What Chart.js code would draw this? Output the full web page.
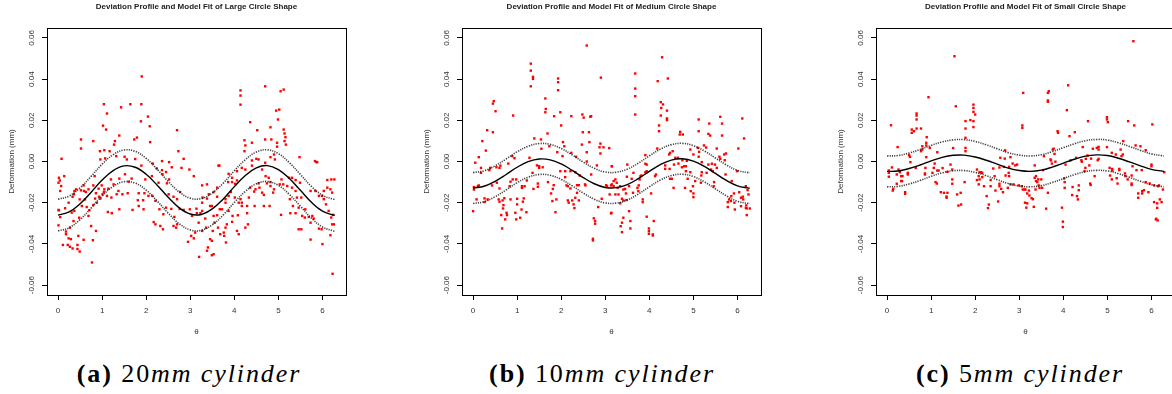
<!DOCTYPE html>
<html lang="en">
<head>
<meta charset="UTF-8">
<title>Deviation Profile and Model Fit</title>
<script src="https://cdn.jsdelivr.net/npm/chart.js"></script>
<style>
  html, body { margin: 0; padding: 0; background: #fff; }
  body { width: 1172px; height: 394px; overflow: hidden; position: relative; }
  canvas { position: absolute; top: 0; }
  .cap {
    position: absolute; top: 359px; width: 340px; text-align: center;
    font-family: "Liberation Serif", "Times New Roman", serif; font-size: 26px; color: #000;
    letter-spacing: 1.9px; white-space: nowrap;
  }
  .cap b { font-weight: bold; }
  .cap i { font-style: italic; }
</style>
</head>
<body>
<canvas id="large" width="352" height="345" style="left:0px"></canvas>
<canvas id="medium" width="352" height="345" style="left:415px"></canvas>
<canvas id="small" width="352" height="345" style="left:829px"></canvas>

<div class="cap" style="left:19px"><b>(a)</b> 20<i>mm cylinder</i></div>
<div class="cap" style="left:432px"><b>(b)</b> 10<i>mm cylinder</i></div>
<div class="cap" style="left:850px"><b>(c)</b> 5<i>mm cylinder</i></div>

<script>
// tick positions and labels
const xTicks = [0, 1, 2, 3, 4, 5, 6];
const yTicks = [-0.06, -0.04, -0.02, 0, 0.02, 0.04, 0.06];
const yTickLabels = ['-0.06', '-0.04', '-0.02', '0.00', '0.02', '0.04', '0.06'];

// theta grid for the fitted curve and its bands
const fitTheta = [0, 0.25, 0.5, 0.75, 1, 1.25, 1.5, 1.75, 2, 2.25, 2.5, 2.75, 3, 3.25, 3.5,
  3.75, 4, 4.25, 4.5, 4.75, 5, 5.25, 5.5, 5.75, 6, 6.25, 6.28];

// large circle (20mm)
const largeFit = [-0.0260, -0.0245, -0.0205, -0.0149, -0.0090, -0.0044, -0.0021, -0.0028, -0.0062,
  -0.0115, -0.0174, -0.0225, -0.0255, -0.0257, -0.0230, -0.0182, -0.0122, -0.0068, -0.0031, -0.0020,
  -0.0039, -0.0083, -0.0140, -0.0198, -0.0241, -0.0260, -0.0260];
const largeUpper = [-0.0183, -0.0168, -0.0128, -0.0072, -0.0013, 0.0033, 0.0056, 0.0049, 0.0015,
  -0.0038, -0.0097, -0.0148, -0.0178, -0.0180, -0.0153, -0.0105, -0.0045, 0.0009, 0.0046, 0.0057,
  0.0038, -0.0006, -0.0063, -0.0121, -0.0164, -0.0183, -0.0183];
const largeLower = [-0.0337, -0.0322, -0.0282, -0.0226, -0.0167, -0.0121, -0.0098, -0.0105, -0.0139,
  -0.0192, -0.0251, -0.0302, -0.0332, -0.0334, -0.0307, -0.0259, -0.0199, -0.0145, -0.0108, -0.0097,
  -0.0116, -0.0160, -0.0217, -0.0275, -0.0318, -0.0337, -0.0337];
const largePoints = [
  [1.90,0.0413],[1.04,0.0278],[1.64,0.0278],[1.89,0.0278],[1.11,0.0233],[1.43,0.0263],[2.04,0.0218],[1.88,0.0195],
  [1.02,0.0174],[1.09,0.0155],[2.08,0.0171],[2.70,0.0152],[0.52,0.0107],[0.80,0.0099],[0.52,0.0063],[1.39,0.0126],
  [1.29,0.0099],[1.73,0.0107],[1.79,0.0116],[2.09,0.0094],[2.73,0.0050],[0.95,0.0050],[1.05,0.0055],[1.17,0.0050],
  [1.27,0.0082],[0.08,0.0013],[0.96,0.0010],[1.07,0.0015],[1.32,0.0026],[1.51,0.0023],[1.56,0.0010],[1.75,0.0012],
  [1.89,-0.0020],[2.36,0.0002],[2.52,-0.0003],[2.85,0.0013],[2.58,-0.0028],[2.80,-0.0031],[2.98,-0.0039],[3.08,-0.0071],
  [0.14,-0.0071],[0.02,-0.0079],[0.07,-0.0119],[0.05,-0.0143],[0.01,-0.0235],[0.01,-0.0310],[0.05,-0.0270],[0.16,-0.0227],
  [0.18,-0.0340],[0.18,-0.0353],[0.24,-0.0373],[0.11,-0.0405],[0.22,-0.0405],[0.27,-0.0414],[0.33,-0.0422],[0.44,-0.0405],
  [0.44,-0.0425],[0.49,-0.0437],[0.58,-0.0380],[0.79,-0.0382],[0.77,-0.0490],[0.27,-0.0321],[0.29,-0.0377],[0.46,-0.0361],
  [0.35,-0.0289],[0.48,-0.0273],[0.31,-0.0248],[0.37,-0.0240],[0.24,-0.0200],[0.33,-0.0171],[0.36,-0.0159],[0.41,-0.0135],
  [0.52,-0.0140],[0.49,-0.0184],[0.61,-0.0184],[0.54,-0.0216],[0.65,-0.0221],[0.69,-0.0264],[0.75,-0.0313],[0.86,-0.0337],
  [0.71,-0.0237],[0.80,-0.0211],[0.88,-0.0200],[0.84,-0.0180],[0.93,-0.0171],[0.96,-0.0180],[1.01,-0.0159],[1.04,-0.0148],
  [1.11,-0.0167],[1.21,-0.0175],[1.13,-0.0245],[1.22,-0.0251],[1.39,-0.0232],[1.33,-0.0159],[1.37,-0.0143],[1.46,-0.0159],
  [1.58,-0.0154],[1.69,-0.0235],[1.81,-0.0188],[1.83,-0.0216],[1.93,-0.0188],[1.94,-0.0232],[1.83,-0.0154],[1.96,-0.0154],
  [2.05,-0.0167],[2.14,-0.0167],[2.21,-0.0191],[2.17,-0.0294],[2.21,-0.0305],[2.32,-0.0313],[2.38,-0.0329],[2.30,-0.0232],
  [2.39,-0.0256],[2.45,-0.0224],[2.57,-0.0230],[2.64,-0.0269],[2.62,-0.0313],[2.68,-0.0321],[2.70,-0.0305],[2.76,-0.0230],
  [2.85,-0.0235],[2.99,-0.0232],[3.04,-0.0264],[3.02,-0.0361],[2.95,-0.0390],[3.08,-0.0373],[3.11,-0.0345],[2.70,-0.0183],
  [2.62,-0.0171],[2.51,-0.0159],[2.77,-0.0148],[2.28,-0.0103],[2.37,-0.0062],[2.45,-0.0051],[2.52,-0.0087],[2.47,-0.0106],
  [2.36,-0.0042],[2.24,-0.0034],[2.15,-0.0010],[2.13,-0.0071],[1.98,-0.0087],[1.67,-0.0083],[1.60,-0.0098],[1.52,-0.0062],
  [1.39,-0.0083],[1.20,-0.0087],[1.14,-0.0132],[1.26,-0.0111],[1.05,-0.0135],[0.99,-0.0116],[0.92,-0.0132],[0.86,-0.0154],
  [0.80,-0.0116],[0.69,-0.0135],[0.63,-0.0148],[0.59,-0.0143],[0.37,-0.0143],[0.83,-0.0071],[0.58,-0.0116],[0.04,-0.0092],
  [0.02,-0.0237],[0.01,-0.0103],
  [4.70,0.0365],[5.12,0.0349],[5.05,0.0341],[4.14,0.0345],[4.14,0.0320],[4.14,0.0276],[4.95,0.0247],[5.02,0.0252],
  [4.99,0.0204],[4.36,0.0191],[4.52,0.0152],[4.82,0.0166],[5.12,0.0155],[5.14,0.0136],[5.16,0.0118],[5.14,0.0099],
  [5.17,0.0082],[4.23,0.0103],[4.25,0.0078],[4.23,0.0050],[4.40,0.0091],[4.70,0.0107],[4.84,0.0107],[4.97,0.0091],
  [4.97,0.0072],[4.90,0.0034],[4.82,0.0021],[4.92,0.0010],[4.50,0.0013],[4.55,0.0010],[4.40,0.0005],[3.66,-0.0020],
  [5.48,0.0021],[5.83,0.0002],[5.88,-0.0003],[4.70,-0.0006],[4.63,-0.0039],[4.40,-0.0020],[4.25,-0.0039],[4.17,-0.0031],
  [4.06,-0.0047],[3.87,-0.0060],[3.95,-0.0079],[3.86,-0.0100],[3.95,-0.0100],[4.02,-0.0108],[4.06,-0.0092],[4.71,-0.0071],
  [4.78,-0.0079],[4.82,-0.0100],[4.74,-0.0106],[4.55,-0.0106],[4.57,-0.0127],[4.48,-0.0135],[4.36,-0.0127],[4.67,-0.0162],
  [4.88,-0.0151],[4.90,-0.0135],[5.07,-0.0087],[5.11,-0.0111],[5.20,-0.0119],[5.31,-0.0079],[5.39,-0.0090],[5.49,-0.0103],
  [5.31,-0.0127],[5.39,-0.0143],[5.42,-0.0175],[5.52,-0.0175],[5.26,-0.0183],[5.33,-0.0216],[5.46,-0.0224],[5.39,-0.0251],
  [5.54,-0.0264],[5.61,-0.0232],[5.69,-0.0269],[5.77,-0.0264],[5.80,-0.0277],[5.73,-0.0297],[5.60,-0.0272],[5.46,-0.0329],
  [5.52,-0.0329],[5.73,-0.0379],[5.06,-0.0259],[5.27,-0.0251],[5.92,-0.0326],[5.98,-0.0329],[6.00,-0.0401],[6.18,-0.0358],
  [6.22,-0.0305],[6.26,-0.0305],[6.20,-0.0272],[6.24,-0.0259],[6.14,-0.0240],[6.08,-0.0208],[6.03,-0.0183],[5.99,-0.0167],
  [5.92,-0.0167],[5.84,-0.0143],[5.73,-0.0143],[6.03,-0.0143],[6.11,-0.0127],[6.18,-0.0135],[6.22,-0.0151],[6.20,-0.0087],
  [6.27,-0.0087],[6.11,-0.0090],[5.86,-0.0003],[5.24,-0.0079],[5.03,-0.0111],[4.82,-0.0119],[4.67,-0.0216],[4.80,-0.0216],
  [4.63,-0.0151],[4.45,-0.0146],[4.33,-0.0175],[4.46,-0.0216],[4.29,-0.0216],[4.17,-0.0200],[4.10,-0.0200],[4.14,-0.0183],
  [4.01,-0.0175],[3.87,-0.0167],[3.92,-0.0148],[3.80,-0.0183],[3.80,-0.0200],[3.72,-0.0232],[3.87,-0.0240],[3.95,-0.0293],
  [3.96,-0.0264],[4.08,-0.0261],[4.17,-0.0216],[4.29,-0.0251],[4.31,-0.0305],[4.25,-0.0321],[4.10,-0.0353],[4.06,-0.0337],
  [3.83,-0.0305],[3.81,-0.0393],[3.76,-0.0345],[3.68,-0.0353],[3.63,-0.0321],[3.55,-0.0297],[3.53,-0.0264],[3.61,-0.0261],
  [3.67,-0.0232],[3.49,-0.0216],[3.45,-0.0216],[3.51,-0.0337],[3.49,-0.0385],[3.45,-0.0377],[3.40,-0.0417],[3.38,-0.0433],
  [3.53,-0.0450],[3.49,-0.0455],[3.20,-0.0463],[3.27,-0.0337],[3.19,-0.0297],[3.36,-0.0321],[3.34,-0.0277],[3.27,-0.0240],
  [3.15,-0.0251],[3.23,-0.0251],[3.14,-0.0229],[3.27,-0.0200],[3.38,-0.0180],[3.61,-0.0171],[3.42,-0.0159],[3.53,-0.0148],
  [3.27,-0.0116],[3.38,-0.0111],[3.61,-0.0127],[3.64,-0.0020],[3.28,-0.0175],[3.80,-0.0321],[3.77,-0.0361],[6.23,-0.0545]
];

// medium circle (10mm)
const mediumFit = [-0.0129, -0.0120, -0.0096, -0.0063, -0.0028, -0.0001, 0.0012, 0.0008, -0.0012,
  -0.0043, -0.0078, -0.0108, -0.0126, -0.0127, -0.0112, -0.0083, -0.0048, -0.0015, 0.0007, 0.0013,
  0.0002, -0.0024, -0.0058, -0.0092, -0.0118, -0.0129, -0.0129];
const mediumUpper = [-0.0054, -0.0045, -0.0021, 0.0012, 0.0047, 0.0074, 0.0087, 0.0083, 0.0063,
  0.0032, -0.0003, -0.0033, -0.0051, -0.0052, -0.0037, -0.0008, 0.0027, 0.0060, 0.0082, 0.0088,
  0.0077, 0.0051, 0.0017, -0.0017, -0.0043, -0.0054, -0.0054];
const mediumLower = [-0.0204, -0.0195, -0.0171, -0.0138, -0.0103, -0.0076, -0.0063, -0.0067, -0.0087,
  -0.0118, -0.0153, -0.0183, -0.0201, -0.0202, -0.0187, -0.0158, -0.0123, -0.0090, -0.0068, -0.0062,
  -0.0073, -0.0099, -0.0133, -0.0167, -0.0193, -0.0204, -0.0204];
const mediumPoints = [
  [2.58,0.0563],[1.31,0.0475],[1.31,0.0441],[1.36,0.0411],[1.36,0.0401],[1.31,0.0365],[1.93,0.0403],[1.93,0.0385],
  [1.93,0.0346],[2.90,0.0407],[1.64,0.0306],[1.65,0.0255],[1.64,0.0239],[0.47,0.0293],[0.45,0.0281],[0.51,0.0244],
  [0.91,0.0223],[1.84,0.0220],[1.98,0.0239],[2.23,0.0220],[2.48,0.0228],[2.51,0.0213],[2.66,0.0217],[2.68,0.0220],
  [2.00,0.0175],[1.69,0.0136],[0.32,0.0152],[0.45,0.0142],[0.21,0.0099],[0.29,0.0053],[2.49,0.0142],[2.63,0.0142],
  [2.64,0.0094],[2.89,0.0087],[2.96,0.0069],[2.87,0.0069],[3.09,0.0065],[2.89,0.0039],[1.39,0.0112],[1.54,0.0107],
  [1.73,0.0074],[1.55,0.0062],[2.04,0.0094],[2.07,0.0074],[2.03,0.0026],[1.91,0.0045],[2.23,0.0042],[2.34,0.0023],
  [2.47,0.0082],[2.58,0.0045],[0.89,0.0026],[0.94,0.0016],[0.80,-0.0010],[0.62,-0.0020],[0.60,-0.0031],[0.53,-0.0028],
  [0.39,-0.0031],[0.37,-0.0042],[0.18,-0.0031],[0.13,0.0021],[0.05,-0.0006],[0.18,-0.0055],[0.13,-0.0116],[0.11,-0.0120],
  [0.02,-0.0136],[0.02,-0.0124],[0.00,-0.0241],[0.08,-0.0184],[0.26,-0.0179],[0.26,-0.0197],[0.33,-0.0184],[0.43,-0.0116],
  [0.54,-0.0103],[0.60,-0.0131],[0.58,-0.0184],[0.60,-0.0195],[0.67,-0.0189],[0.69,-0.0212],[0.71,-0.0178],[0.68,-0.0228],
  [0.76,-0.0249],[0.77,-0.0260],[0.73,-0.0281],[0.66,-0.0325],[0.64,-0.0260],[0.85,-0.0184],[1.00,-0.0181],[1.00,-0.0208],
  [0.96,-0.0249],[0.98,-0.0281],[1.07,-0.0273],[1.10,-0.0233],[1.13,-0.0195],[1.21,-0.0246],[1.15,-0.0179],[0.83,-0.0120],
  [0.85,-0.0098],[0.90,-0.0087],[0.98,-0.0087],[1.11,-0.0120],[1.11,-0.0128],[1.17,-0.0120],[1.22,-0.0092],[1.35,-0.0055],
  [1.28,0.0018],[1.45,-0.0019],[1.50,-0.0031],[1.50,-0.0023],[1.58,-0.0028],[1.47,-0.0107],[1.47,-0.0123],[1.37,-0.0133],
  [1.70,-0.0100],[1.83,-0.0115],[1.81,-0.0133],[1.77,-0.0155],[1.80,-0.0192],[1.89,-0.0184],[1.87,-0.0246],[2.15,-0.0189],
  [2.17,-0.0200],[2.25,-0.0189],[2.28,-0.0208],[2.30,-0.0226],[2.12,-0.0116],[2.15,-0.0120],[2.21,-0.0131],[2.36,-0.0115],
  [2.40,-0.0115],[2.36,-0.0152],[2.32,-0.0176],[2.40,-0.0189],[2.54,-0.0111],[2.55,-0.0116],[1.98,-0.0047],[2.09,-0.0047],
  [2.09,-0.0076],[2.21,-0.0047],[2.32,-0.0052],[2.42,-0.0068],[2.58,0.0000],[2.68,-0.0063],[2.81,-0.0019],[2.84,-0.0221],
  [2.92,-0.0181],[2.74,-0.0276],[2.77,-0.0289],[2.77,-0.0302],[2.72,-0.0375],[2.72,-0.0383],[3.04,-0.0120],[3.10,-0.0160],
  [3.14,-0.0249],[3.15,-0.0023],[3.02,-0.0115],[3.13,-0.0116],
  [4.29,0.0506],[3.68,0.0427],[3.68,0.0354],[3.68,0.0317],[3.68,0.0228],[4.19,0.0390],[4.42,0.0403],[4.26,0.0288],
  [4.31,0.0277],[4.27,0.0260],[4.40,0.0247],[4.26,0.0223],[4.40,0.0209],[4.40,0.0201],[4.22,0.0175],[4.22,0.0147],
  [5.12,0.0204],[5.12,0.0147],[5.36,0.0184],[5.61,0.0217],[5.65,0.0184],[6.11,0.0209],[6.15,0.0112],[6.02,0.0063],
  [5.34,0.0134],[5.38,0.0126],[5.65,0.0126],[4.70,0.0144],[4.69,0.0131],[4.76,0.0131],[5.24,0.0078],[5.29,0.0068],
  [5.53,0.0063],[5.10,0.0066],[4.93,0.0058],[4.18,0.0063],[4.53,0.0050],[4.47,0.0042],[4.45,0.0034],[3.91,0.0031],
  [3.50,-0.0015],[3.15,-0.0023],[3.91,-0.0011],[3.91,-0.0052],[3.80,-0.0071],[3.82,-0.0068],[3.94,-0.0047],[4.13,-0.0071],
  [4.15,-0.0063],[4.36,-0.0019],[4.36,-0.0036],[4.46,-0.0036],[4.56,-0.0015],[4.59,0.0018],[4.65,0.0018],[4.66,-0.0010],
  [4.74,-0.0028],[4.79,-0.0023],[4.83,-0.0047],[4.87,-0.0084],[4.83,-0.0023],[4.75,0.0006],[4.85,0.0003],[5.00,0.0034],
  [5.13,0.0047],[5.12,0.0023],[5.19,-0.0003],[5.34,-0.0015],[5.42,-0.0011],[5.49,-0.0015],[5.53,-0.0031],[5.59,0.0023],
  [5.61,0.0013],[5.70,0.0034],[5.74,0.0039],[5.71,0.0006],[5.44,-0.0047],[5.40,-0.0039],[5.30,-0.0055],[4.93,-0.0052],
  [5.19,-0.0052],[5.18,-0.0068],[5.04,-0.0095],[4.99,-0.0120],[5.17,-0.0103],[5.00,-0.0155],[4.94,-0.0144],[4.81,-0.0128],
  [5.00,-0.0173],[5.47,-0.0100],[5.46,-0.0120],[5.73,-0.0063],[5.87,-0.0095],[5.99,-0.0047],[6.04,-0.0149],[5.92,-0.0155],
  [5.86,-0.0168],[5.81,-0.0184],[5.85,-0.0192],[5.78,-0.0197],[5.93,-0.0200],[5.78,-0.0221],[5.94,-0.0233],[6.08,-0.0176],
  [6.12,-0.0171],[6.13,-0.0184],[6.19,-0.0120],[6.23,-0.0139],[6.25,-0.0160],[6.20,-0.0213],[6.19,-0.0225],[6.21,-0.0228],
  [6.28,-0.0228],[6.21,-0.0260],[6.08,-0.0217],[3.94,-0.0015],[3.78,-0.0087],[3.64,-0.0055],[3.60,-0.0084],[3.49,-0.0074],
  [3.54,-0.0120],[3.45,-0.0133],[3.41,-0.0136],[3.34,-0.0120],[3.26,-0.0103],[3.23,-0.0087],[3.19,-0.0095],[3.15,-0.0111],
  [3.19,-0.0120],[3.28,-0.0128],[3.23,-0.0160],[3.30,-0.0160],[3.38,-0.0181],[3.41,-0.0189],[3.47,-0.0155],[3.48,-0.0187],
  [3.63,-0.0152],[3.76,-0.0116],[3.73,-0.0128],[3.75,-0.0144],[3.13,-0.0252],[3.34,-0.0203],[3.54,-0.0241],[3.57,-0.0289],
  [3.57,-0.0325],[3.41,-0.0273],[3.38,-0.0297],[3.35,-0.0314],[3.38,-0.0343],[3.85,-0.0184],[3.85,-0.0197],[3.94,-0.0268],
  [4.04,-0.0155],[4.10,-0.0289],[3.99,-0.0325],[3.99,-0.0338],[3.99,-0.0351],[4.08,-0.0354],[4.08,-0.0359],[4.47,-0.0084],
  [4.51,-0.0084],[4.55,-0.0128]
];

// small circle (5mm)
const smallFit = [-0.0048, -0.0046, -0.0034, -0.0017, 0.0003, 0.0020, 0.0030, 0.0031, 0.0022,
  0.0006, -0.0013, -0.0032, -0.0044, -0.0048, -0.0042, -0.0027, -0.0008, 0.0011, 0.0026, 0.0032,
  0.0029, 0.0016, -0.0002, -0.0021, -0.0038, -0.0047, -0.0048];
const smallUpper = [0.0027, 0.0029, 0.0041, 0.0058, 0.0078, 0.0095, 0.0105, 0.0106, 0.0097,
  0.0081, 0.0062, 0.0043, 0.0031, 0.0027, 0.0033, 0.0048, 0.0067, 0.0086, 0.0101, 0.0107,
  0.0104, 0.0091, 0.0073, 0.0054, 0.0037, 0.0028, 0.0027];
const smallLower = [-0.0123, -0.0121, -0.0109, -0.0092, -0.0072, -0.0055, -0.0045, -0.0044, -0.0053,
  -0.0069, -0.0088, -0.0107, -0.0119, -0.0123, -0.0117, -0.0102, -0.0083, -0.0064, -0.0049, -0.0043,
  -0.0046, -0.0059, -0.0077, -0.0096, -0.0113, -0.0122, -0.0123];
const smallPoints = [
  [1.53,0.0511],[0.94,0.0312],[0.09,0.0176],[0.67,0.0233],[0.67,0.0223],[0.67,0.0204],[0.56,0.0155],[0.61,0.0147],
  [0.56,0.0139],[0.67,0.0160],[0.77,0.0160],[1.56,0.0268],[1.96,0.0276],[1.96,0.0260],[1.96,0.0241],[2.00,0.0228],
  [1.78,0.0196],[1.89,0.0201],[1.96,0.0196],[1.96,0.0167],[1.78,0.0160],[1.78,0.0115],[0.90,0.0118],[0.89,0.0091],
  [0.89,0.0078],[0.97,0.0066],[0.80,0.0074],[0.80,0.0058],[0.77,0.0050],[0.24,0.0070],[0.50,0.0031],[0.52,0.0023],
  [0.89,0.0021],[1.14,0.0045],[1.78,0.0066],[1.78,0.0050],[1.50,0.0065],[2.68,0.0054],[2.57,0.0018],[2.67,0.0014],
  [2.80,0.0021],[0.53,-0.0003],[0.65,-0.0031],[0.87,-0.0031],[1.08,-0.0010],[1.44,-0.0015],[1.06,-0.0031],[1.14,-0.0044],
  [1.17,-0.0044],[1.26,-0.0032],[1.37,-0.0050],[1.48,-0.0039],[2.04,-0.0039],[2.10,-0.0052],[2.16,-0.0055],[2.41,-0.0034],
  [2.55,-0.0029],[2.65,-0.0026],[2.77,-0.0026],[2.85,-0.0010],[2.91,-0.0019],[2.95,-0.0015],[0.04,-0.0044],[0.04,-0.0055],
  [0.11,-0.0029],[0.26,-0.0039],[0.29,-0.0052],[0.22,-0.0063],[0.32,-0.0071],[0.35,-0.0071],[0.47,-0.0055],[0.47,-0.0063],
  [0.04,-0.0074],[0.32,-0.0095],[0.34,-0.0095],[0.22,-0.0108],[0.13,-0.0141],[0.14,-0.0133],[0.41,-0.0157],[0.41,-0.0149],
  [0.86,-0.0058],[0.86,-0.0063],[1.03,-0.0055],[1.10,-0.0100],[1.13,-0.0107],[1.22,-0.0149],[1.29,-0.0152],[1.37,-0.0152],
  [1.35,-0.0170],[1.35,-0.0176],[1.48,-0.0087],[1.48,-0.0108],[1.59,-0.0160],[1.67,-0.0152],[1.62,-0.0214],[1.68,-0.0209],
  [1.76,-0.0100],[2.08,-0.0071],[2.04,-0.0090],[2.10,-0.0087],[2.08,-0.0111],[2.13,-0.0052],[2.16,-0.0076],[2.20,-0.0120],
  [2.26,-0.0168],[2.31,-0.0209],[2.29,-0.0226],[2.35,-0.0120],[2.35,-0.0090],[2.44,-0.0071],[2.46,-0.0141],[2.52,-0.0194],
  [2.55,-0.0120],[2.59,-0.0133],[2.63,-0.0149],[2.55,-0.0108],[2.69,-0.0068],[2.77,-0.0071],[2.76,-0.0055],[2.74,-0.0128],
  [2.80,-0.0111],[2.87,-0.0111],[2.99,-0.0116],[3.06,-0.0120],[3.12,-0.0136],
  [5.59,0.0584],[3.09,0.0333],[3.65,0.0333],[3.67,0.0341],[3.65,0.0296],[3.65,0.0290],[4.11,0.0370],[4.08,0.0249],
  [3.07,0.0175],[3.07,0.0163],[4.56,0.0196],[4.99,0.0215],[4.99,0.0204],[5.01,0.0191],[5.47,0.0196],[5.61,0.0175],
  [6.02,0.0180],[3.87,0.0147],[3.88,0.0139],[4.26,0.0142],[4.14,0.0123],[5.36,0.0099],[5.64,0.0078],[5.75,0.0074],
  [5.87,0.0055],[4.80,0.0071],[4.80,0.0058],[4.76,0.0066],[4.67,0.0062],[4.44,0.0070],[4.99,0.0070],[5.30,0.0058],
  [5.10,0.0042],[5.19,0.0034],[5.35,0.0034],[5.32,0.0026],[3.78,0.0062],[3.76,0.0058],[3.80,0.0037],[3.71,0.0010],
  [3.72,0.0005],[3.74,-0.0010],[3.82,-0.0001],[3.56,0.0026],[4.29,0.0018],[4.51,0.0013],[4.55,0.0029],[4.63,0.0014],
  [4.80,0.0013],[4.78,0.0006],[4.41,0.0006],[4.42,-0.0001],[4.59,-0.0019],[4.50,-0.0031],[4.05,-0.0015],[4.16,0.0005],
  [3.35,-0.0019],[3.54,-0.0042],[3.35,-0.0079],[3.38,-0.0095],[3.41,-0.0100],[3.44,-0.0116],[3.46,-0.0128],[3.52,-0.0128],
  [3.14,-0.0136],[3.22,-0.0141],[3.23,-0.0165],[3.18,-0.0155],[3.28,-0.0178],[3.31,-0.0183],[3.18,-0.0203],[3.16,-0.0224],
  [3.33,-0.0220],[3.65,-0.0152],[3.61,-0.0229],[3.97,-0.0224],[3.99,-0.0292],[3.99,-0.0318],[4.02,-0.0082],[4.03,-0.0100],
  [4.03,-0.0128],[4.21,-0.0124],[4.20,-0.0163],[4.31,-0.0168],[4.33,-0.0184],[4.35,-0.0116],[4.35,-0.0139],[4.48,-0.0047],
  [4.61,-0.0107],[4.62,-0.0114],[4.71,-0.0071],[5.05,-0.0031],[5.11,-0.0036],[5.11,-0.0044],[5.06,-0.0068],[5.10,-0.0087],
  [5.21,-0.0081],[5.23,-0.0107],[5.27,-0.0036],[5.27,-0.0042],[5.40,-0.0058],[5.41,-0.0071],[5.46,-0.0087],[5.55,-0.0068],
  [5.55,-0.0107],[5.55,-0.0114],[5.57,-0.0023],[5.66,-0.0042],[5.78,-0.0042],[6.00,-0.0015],[6.00,-0.0023],[5.87,-0.0100],
  [5.96,-0.0107],[5.70,-0.0155],[5.70,-0.0176],[5.79,-0.0155],[5.79,-0.0144],[5.83,-0.0139],[5.93,-0.0149],[6.06,-0.0116],
  [6.15,-0.0120],[6.17,-0.0116],[6.26,-0.0136],[6.29,-0.0052],[6.19,-0.0184],[6.06,-0.0197],[6.23,-0.0197],[6.13,-0.0225],
  [6.13,-0.0203],[6.11,-0.0278],[6.14,-0.0286],[6.10,-0.0281],[3.43,-0.0087],[3.50,-0.0087],[3.37,-0.0136],[3.08,-0.0136],
  [3.13,-0.0200],[3.38,-0.0071]
];

const FONT = '"Liberation Sans", Arial, sans-serif';

// R-style frame: full box, rotated y tick labels, plot title over the plot region
const rFrame = {
  id: 'rFrame',
  afterDraw(chart) {
    const { ctx, chartArea: a } = chart;
    const y = chart.scales.y;
    ctx.save();
    ctx.strokeStyle = '#000';
    ctx.lineWidth = 1;
    ctx.strokeRect(Math.round(a.left) + 0.5, Math.round(a.top) + 0.5,
      Math.round(a.right - a.left), Math.round(a.bottom - a.top));

    ctx.fillStyle = '#333';
    ctx.font = '8px ' + FONT;
    ctx.textAlign = 'center';
    ctx.textBaseline = 'middle';
    yTicks.forEach((v, i) => {
      ctx.save();
      ctx.translate(a.left - 15, y.getPixelForValue(v));
      ctx.rotate(-Math.PI / 2);
      ctx.fillText(yTickLabels[i], 0, 0);
      ctx.restore();
    });

    ctx.fillStyle = '#222';
    ctx.font = 'bold 8px ' + FONT;
    ctx.fillText(chart.options.plotTitle, (a.left + a.right) / 2, 7);
    ctx.restore();
  }
};

function drawPanel(id, title, points, fit, upper, lower) {
  const curve = ys => fitTheta.map((t, i) => ({ x: t, y: ys[i] }));
  const band = {
    type: 'line', borderColor: 'rgba(30,30,30,0.85)', borderWidth: 1.6,
    borderDash: [1.2, 1.2], pointRadius: 0, tension: 0.4, fill: false
  };
  new Chart(document.getElementById(id), {
    type: 'scatter',
    data: {
      datasets: [
        { type: 'line', data: curve(fit), borderColor: '#000', borderWidth: 1.4,
          pointRadius: 0, tension: 0.4, fill: false },
        Object.assign({ data: curve(upper) }, band),
        Object.assign({ data: curve(lower) }, band),
        { data: points.map(p => ({ x: p[0], y: p[1] })), backgroundColor: '#ff0000',
          borderWidth: 0, pointStyle: 'rect', pointRadius: 1.7 }
      ]
    },
    options: {
      plotTitle: title,
      responsive: false,
      animation: false,
      events: [],
      layout: { padding: { left: 7, right: 6, top: 28, bottom: 8 } },
      plugins: { legend: { display: false }, tooltip: { enabled: false } },
      scales: {
        x: {
          type: 'linear', min: -0.251, max: 6.534,
          afterBuildTicks: s => { s.ticks = xTicks.map(v => ({ value: v })); },
          afterFit: s => { s.height = 42; },
          border: { display: false },
          grid: { drawOnChartArea: false, drawTicks: true, tickLength: 5, color: '#000' },
          ticks: { padding: 6, color: '#333', maxRotation: 0, font: { family: FONT, size: 8 } },
          title: { display: true, text: 'θ', color: '#333', padding: 0, font: { family: FONT, size: 8 } }
        },
        y: {
          type: 'linear', min: -0.0648, max: 0.0648,
          afterBuildTicks: s => { s.ticks = yTicks.map(v => ({ value: v })); },
          afterFit: s => { s.width = 40; },
          border: { display: false },
          grid: { drawOnChartArea: false, drawTicks: true, tickLength: 5, color: '#000' },
          ticks: { display: false },
          title: { display: true, text: 'Deformation (mm)', color: '#333', padding: 0,
            font: { family: FONT, size: 8 } }
        }
      }
    },
    plugins: [rFrame]
  });
}

drawPanel('large', 'Deviation Profile and Model Fit of Large Circle Shape',
  largePoints, largeFit, largeUpper, largeLower);
drawPanel('medium', 'Deviation Profile and Model Fit of Medium Circle Shape',
  mediumPoints, mediumFit, mediumUpper, mediumLower);
drawPanel('small', 'Deviation Profile and Model Fit of Small Circle Shape',
  smallPoints, smallFit, smallUpper, smallLower);
</script>
</body>
</html>
